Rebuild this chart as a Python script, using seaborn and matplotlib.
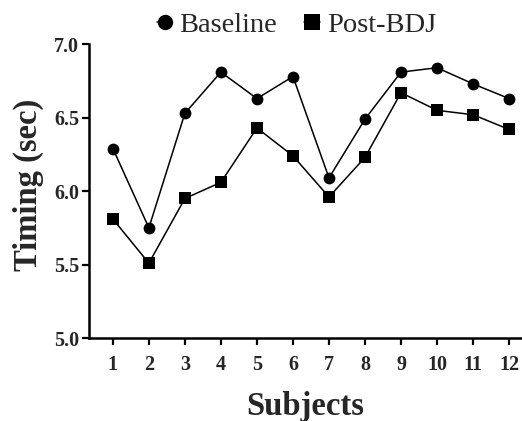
import matplotlib
matplotlib.use("Agg")
import matplotlib.pyplot as plt
import pandas as pd
import seaborn as sns

subjects = list(range(1, 13))
baseline = [6.29, 5.75, 6.53, 6.81, 6.63, 6.78, 6.09, 6.49, 6.81, 6.84, 6.73, 6.63]
post_bdj = [5.81, 5.51, 5.95, 6.06, 6.43, 6.24, 5.96, 6.23, 6.67, 6.55, 6.52, 6.42]
y_ticks = [5.0, 5.5, 6.0, 6.5, 7.0]

frame = pd.DataFrame({
    "Subjects": subjects * 2,
    "Timing": baseline + post_bdj,
    "Group": ["Baseline"] * 12 + ["Post-BDJ"] * 12,
})

sns.set_theme(style="ticks")
plt.rcParams["font.family"] = ["Liberation Serif", "DejaVu Serif"]

fig = plt.figure(figsize=(5.22, 4.21), dpi=100)
ax = fig.add_axes([0.170, 0.197, 0.828, 0.698])

sns.lineplot(
    data=frame,
    x="Subjects",
    y="Timing",
    style="Group",
    markers={"Baseline": "o", "Post-BDJ": "s"},
    dashes=False,
    color="black",
    linewidth=1.1,
    markersize=8.5,
    markeredgewidth=0,
    ax=ax,
)

ax.set_xlim(0.33, 12.33)
ax.set_ylim(5.0, 7.0)
ax.set_xticks(subjects)
ax.set_yticks(y_ticks)
ax.set_yticklabels([f"{t:.1f}" for t in y_ticks])
for lab in ax.get_xticklabels() + ax.get_yticklabels():
    lab.set_fontweight("bold")
    lab.set_fontsize(14.5)
ax.tick_params(direction="out", length=5, width=1.6, color="black")
ax.tick_params(axis="x", pad=7)
ax.tick_params(axis="y", pad=2)
ax.set_xlabel("Subjects", fontsize=23.5, fontweight="bold", labelpad=12)
ax.set_ylabel("Timing (sec)", fontsize=23.5, fontweight="bold")
ax.yaxis.set_label_coords(-0.104, 0.52)

sns.despine(ax=ax)
for side in ["left", "bottom"]:
    ax.spines[side].set_linewidth(1.8)
    ax.spines[side].set_color("black")

leg = ax.legend(
    loc="center",
    bbox_to_anchor=(0.568, 0.94),
    bbox_transform=fig.transFigure,
    ncol=2,
    frameon=False,
    fontsize=20.5,
    handlelength=0.55,
    handletextpad=0.25,
    columnspacing=0.95,
    borderaxespad=0.0,
    markerscale=1.3,
)

fig.savefig("out.png", dpi=100)
